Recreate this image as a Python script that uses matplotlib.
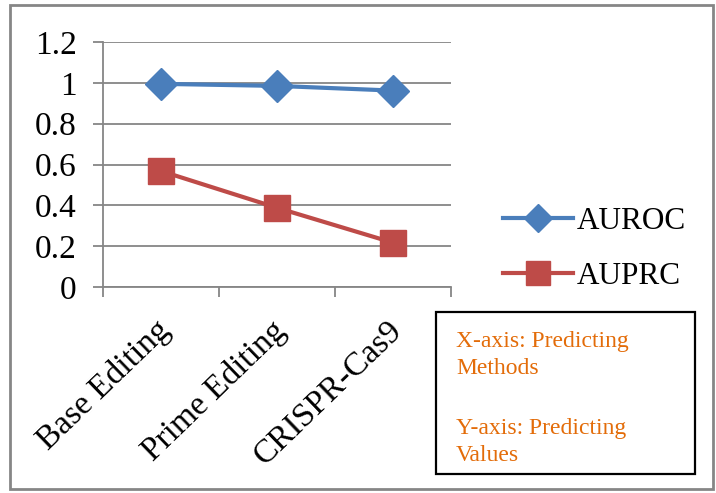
import matplotlib
matplotlib.use("Agg")
import matplotlib.pyplot as plt
from matplotlib.patches import Rectangle
from matplotlib.lines import Line2D
from matplotlib.ticker import FixedLocator, NullFormatter
from matplotlib.transforms import ScaledTranslation

categories = ["Base Editing", "Prime Editing", "CRISPR-Cas9"]
auroc = [0.995, 0.985, 0.962]
auprc = [0.568, 0.388, 0.217]
yticks = [0, 0.2, 0.4, 0.6, 0.8, 1.0, 1.2]
ytick_labels = ["0", "0.2", "0.4", "0.6", "0.8", "1", "1.2"]

plt.rcParams['font.family'] = ['Liberation Serif', 'DejaVu Serif']
W, H = 716, 493
fig = plt.figure(figsize=(W / 100, H / 100), dpi=100)

def fx(px):
    return px / W

def fy(py):
    return 1 - py / H

ax = fig.add_axes([fx(103), fy(287), fx(451) - fx(103), fy(42) - fy(287)])
grid_c = "#868686"
blue = "#4A7EBB"
red = "#BE4B48"

x = list(range(len(categories)))
ax.plot(x, auroc, color=blue, lw=3, marker="D", ms=16, label="AUROC", zorder=3)
ax.plot(x, auprc, color=red, lw=3, marker="s", ms=19, label="AUPRC", zorder=3)

ax.set_xlim(-0.5, len(categories) - 0.5)
ax.set_ylim(0, 1.2)
ax.set_yticks(yticks)
ax.set_yticklabels(ytick_labels, fontsize=24)
ax.yaxis.grid(True, color=grid_c, lw=1.3)
ax.set_axisbelow(True)

ax.xaxis.set_major_locator(FixedLocator([i - 0.5 for i in range(len(categories) + 1)]))
ax.xaxis.set_major_formatter(NullFormatter())
ax.xaxis.set_minor_locator(FixedLocator(x))
ax.set_xticklabels(categories, minor=True, fontsize=24, rotation=44,
                   ha="right", va="top", rotation_mode="anchor")
ax.tick_params(axis="x", which="minor", length=0, pad=20)
ax.tick_params(axis="x", which="major", length=7, color=grid_c, width=1.3, direction="out")
ax.tick_params(axis="y", length=7, color=grid_c, width=1.3, direction="out", pad=12)
shift = ScaledTranslation(-6 / 100, 0, fig.dpi_scale_trans)
for lab in ax.get_xticklabels(minor=True):
    lab.set_transform(lab.get_transform() + shift)

for s in ["top", "right"]:
    ax.spines[s].set_visible(False)
for s in ["left", "bottom"]:
    ax.spines[s].set_color(grid_c)
    ax.spines[s].set_linewidth(1.3)

handles = [
    Line2D([], [], color=blue, lw=3, marker="D", ms=14),
    Line2D([], [], color=red, lw=3, marker="s", ms=17),
]
fig.legend(handles, ["AUROC", "AUPRC"], loc="center left",
           bbox_to_anchor=(fx(503), fy(249)), frameon=False, borderpad=0,
           borderaxespad=0,
           fontsize=22.5, handlelength=2.25, labelspacing=0.85, handletextpad=0.12)

# outer border
fig.patches.append(Rectangle((fx(10), fy(489)), fx(713) - fx(10), fy(5) - fy(489),
                             transform=fig.transFigure, fill=False,
                             edgecolor=grid_c, lw=2))
# text box
fig.patches.append(Rectangle((fx(436), fy(474)), fx(695) - fx(436), fy(312) - fy(474),
                             transform=fig.transFigure, fill=False,
                             edgecolor="black", lw=1.6))
orange = "#E36C09"
box_lines = ["X-axis: Predicting", "Methods", "Y-axis: Predicting", "Values"]
box_baselines = [347, 374, 434, 461]
for txt, by in zip(box_lines, box_baselines):
    fig.text(fx(456), fy(by), txt, color=orange, fontsize=17,
             va="baseline", ha="left")

fig.savefig("out.png", dpi=100)
